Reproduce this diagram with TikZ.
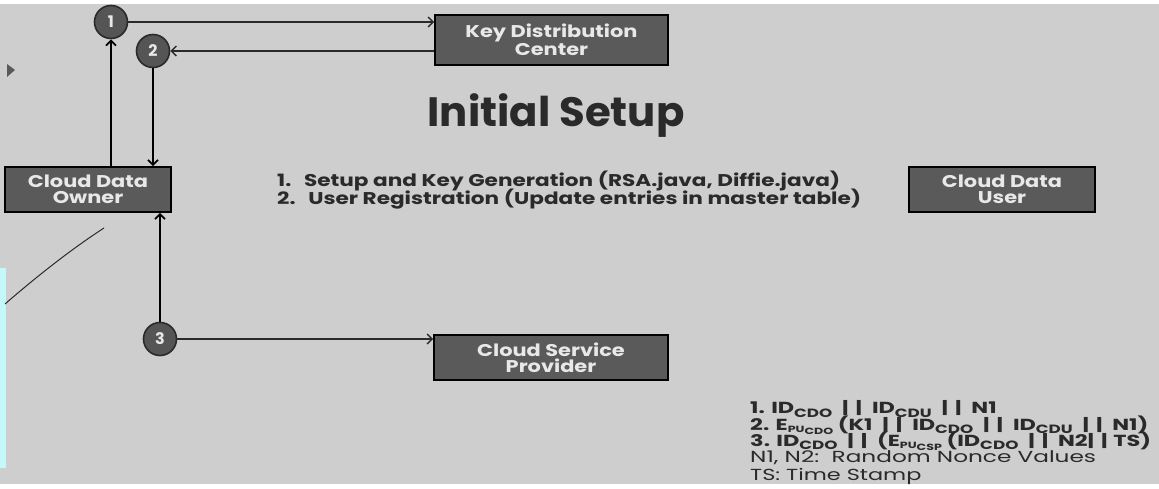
\documentclass[tikz,border=0pt]{standalone}
\usepackage{fontspec}
\setmainfont{Poppins}
\usetikzlibrary{arrows.meta}
\definecolor{bg}{HTML}{CECECE}
\definecolor{boxfill}{HTML}{5A5A5A}
\definecolor{boxtext}{HTML}{E8E8E8}
\definecolor{ink}{HTML}{2A2A2A}
\definecolor{circfill}{HTML}{555555}
\definecolor{cyanstrip}{HTML}{C4F8FB}
\newcommand{\wide}[2]{\scalebox{#1}[1]{#2}}
\newcommand{\lowsub}[1]{\raisebox{-0.35ex}{\fontsize{12}{12}\selectfont #1}}
\newcommand{\lowsubsub}[2]{\raisebox{-0.3ex}{\fontsize{9}{9}\selectfont #1\raisebox{-0.3ex}{\fontsize{9}{9}\selectfont #2}}}
\newcommand{\bars}{\hspace{7pt}|\hspace{5pt}|\hspace{7pt}}
\begin{document}
\begin{tikzpicture}[x=1pt,y=-1pt,
  entity/.style={draw=black, line width=1.6pt, fill=boxfill, text=boxtext,
    font=\fontsize{17}{16}\selectfont\bfseries, align=center, inner sep=0pt},
  stepcirc/.style={circle, draw=ink, line width=1.6pt, fill=circfill, text=boxtext,
    minimum size=33pt, inner sep=0pt, font=\fontsize{16}{16}\selectfont\bfseries},
  arr/.style={draw=ink, line width=1.4pt, -{Straight Barb[length=5pt,width=10pt,line width=1.4pt]}},
  thickarr/.style={draw=black, line width=2.8pt, -{Straight Barb[length=5pt,width=10pt,line width=1.8pt]}},
  legend/.style={anchor=west, text=ink, inner sep=0pt, font=\fontsize{16}{16}\selectfont\bfseries}
]
\useasboundingbox (0,0) rectangle (1159,489);
\fill[bg] (0,0) rectangle (1159,489);
\fill[white] (0,0) rectangle (1159,4);
\fill[cyanstrip] (0,268) rectangle (6,468);
\fill[white] (0,484) rectangle (1159,489);
% photo artefacts
\fill[gray!70!black] (7,64) -- (15,70) -- (7,77) -- cycle;
\draw[ink, line width=1pt] (5,304) .. controls (35,278) and (70,250) .. (104,228);

% boxes
\node[entity, minimum width=233pt, minimum height=50pt] (kdc) at (551.5,40) {\wide{1.23}{Key Distribution}\\\wide{1.23}{Center}};
\node[entity, minimum width=166pt, minimum height=45pt] (cdo) at (88,189.5) {\wide{1.23}{Cloud Data}\\\wide{1.23}{Owner}};
\node[entity, minimum width=186pt, minimum height=45pt] (cdu) at (1002,189.5) {\wide{1.23}{Cloud Data}\\\wide{1.23}{User}};
\node[entity, minimum width=234pt, minimum height=45pt] (csp) at (551,357.5) {\wide{1.23}{Cloud Service}\\\wide{1.23}{Provider}};

% step circles
\node[stepcirc] (c1) at (111,22) {1};
\node[stepcirc] (c2) at (153,51) {2};
\node[stepcirc] (c3) at (160,339) {3};

% connectors
\draw[arr] (c1.east) -- (c1.east -| kdc.west);
\draw[arr] (kdc.west |- c2.east) -- (c2.east);
\draw[thickarr] (cdo.north -| c1) -- (c1.south);
\draw[thickarr] (c2.south) -- (c2.south |- cdo.north);
\draw[thickarr] (c3.north) -- (c3.north |- cdo.south);
\draw[arr] (c3.east) -- (c3.east -| csp.west);

% title and list
\node[text=ink, font=\fontsize{41}{42}\selectfont\bfseries, inner sep=0pt] (title) at (556,116) {\wide{1.02}{Initial Setup}};
\node[legend, font=\fontsize{17}{17}\selectfont\bfseries] (item1) at (277,181) {\wide{1.27}{1.\hspace{10pt}Setup and Key Generation (RSA.java, Diffie.java)}};
\node[legend, font=\fontsize{17}{17}\selectfont\bfseries] (item2) at (277,199) {\wide{1.27}{2.\hspace{10pt}User Registration (Update entries in master table)}};

% message legend
\node[legend] (m1) at (750,409) {\wide{1.4}{1. ID\lowsub{CDO}\bars ID\lowsub{CDU}\bars N1}};
\node[legend] (m2) at (750,425) {\wide{1.4}{2. E\lowsubsub{PU}{CDO} (K1\bars ID\lowsub{CDO}\bars ID\lowsub{CDU}\bars N1)}};
\node[legend] (m3) at (750,441) {\wide{1.4}{3. ID\lowsub{CDO}\bars (E\lowsubsub{PU}{CSP} (ID\lowsub{CDO}\bars N2|\hspace{5pt}|\hspace{4pt}TS)}};
\node[legend, font=\fontsize{16}{16}\selectfont] (m4) at (750,458) {\wide{1.45}{N1, N2:\ \ Random Nonce Values}};
\node[legend, font=\fontsize{16}{16}\selectfont] (m5) at (750,476) {\wide{1.4}{TS: Time Stamp}};
\end{tikzpicture}
\end{document}
